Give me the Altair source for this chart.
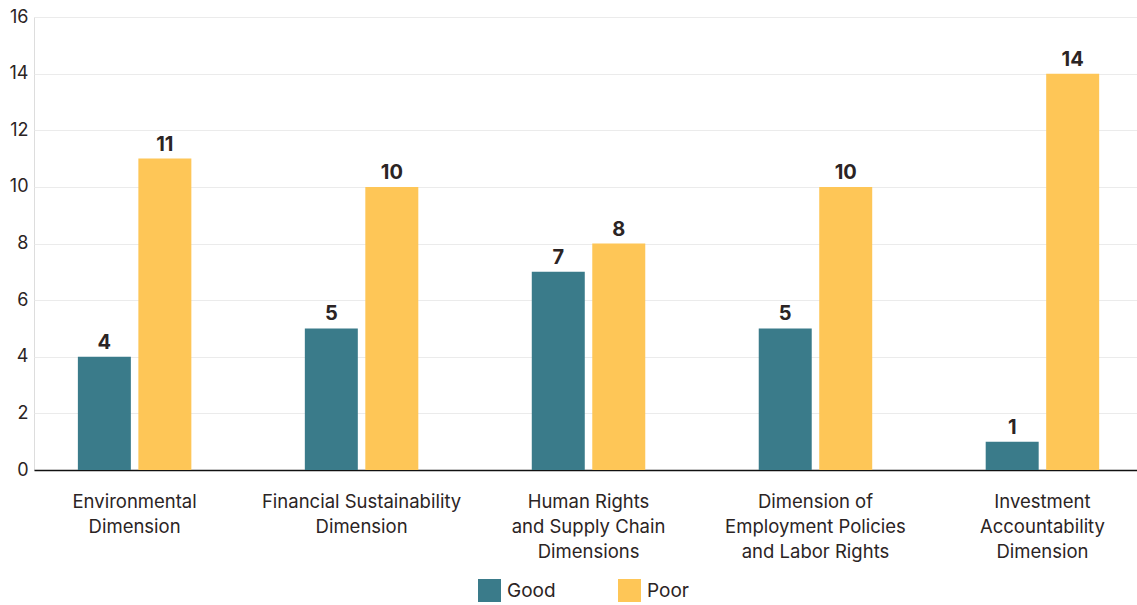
import altair as alt
import pandas as pd

# Assessment counts per ESG dimension
categories = [
    "Environmental\nDimension",
    "Financial Sustainability\nDimension",
    "Human Rights\nand Supply Chain\nDimensions",
    "Dimension of\nEmployment Policies\nand Labor Rights",
    "Investment\nAccountability\nDimension",
]
good = [4, 5, 7, 5, 1]
poor = [11, 10, 8, 10, 14]
ratings = ["Good", "Poor"]
colors = ["#3a7b8a", "#fec657"]

rows = []
for c, g, p in zip(categories, good, poor):
    rows.append({"category": c, "rating": "Good", "count": g})
    rows.append({"category": c, "rating": "Poor", "count": p})
df = pd.DataFrame(rows)

FONT = "Inter"
INK = "#2b2424"

x_enc = alt.X(
    "category:N",
    sort=categories,
    title=None,
    scale=alt.Scale(paddingInner=0.5, paddingOuter=0.18, align=0.537),
    axis=alt.Axis(
        labelAngle=0,
        labelExpr="split(datum.label, '\\n')",
        labelFontSize=18.5,
        labelLineHeight=25,
        labelPadding=22,
        labelColor=INK,
        labelFont=FONT,
        ticks=False,
        domain=True,
        domainColor="#111111",
        domainWidth=1.5,
        grid=False,
        labelLimit=300,
    ),
)
xoff = alt.XOffset("rating:N", sort=ratings, scale=alt.Scale(paddingInner=0.124, paddingOuter=0))

y_enc = alt.Y(
    "count:Q",
    title=None,
    scale=alt.Scale(domain=[0, 16]),
    axis=alt.Axis(
        values=[0, 2, 4, 6, 8, 10, 12, 14, 16],
        labelFontSize=18,
        labelColor=INK,
        labelFont=FONT,
        labelPadding=6,
        ticks=False,
        domain=False,
        gridColor="#ebebeb",
        gridWidth=1,
    ),
)

bars = alt.Chart(df).mark_bar().encode(
    x=x_enc,
    xOffset=xoff,
    y=y_enc,
    color=alt.Color(
        "rating:N",
        sort=ratings,
        scale=alt.Scale(domain=ratings, range=colors),
        legend=alt.Legend(
            title=None,
            orient="none",
            direction="horizontal",
            legendX=444,
            legendY=562,
            symbolType="square",
            symbolSize=529,
            symbolStrokeWidth=0,
            symbolOpacity=1,
            labelFontSize=19,
            labelFont=FONT,
            labelColor=INK,
            labelOffset=6,
            columnPadding=62,
        ),
    ),
)

labels = alt.Chart(df).mark_text(
    dy=-14, fontSize=20, fontWeight="bold", font=FONT, color=INK
).encode(
    x=alt.X("category:N", sort=categories),
    xOffset=alt.XOffset("rating:N", sort=ratings),
    y="count:Q",
    text="count:Q",
)

chart = (
    alt.layer(bars, labels)
    .properties(
        width=1103,
        height=453,
        autosize=alt.AutoSizeParams(type="none"),
        padding={"left": 34, "top": 17, "right": 0, "bottom": 135},
    )
    .configure_view(stroke=None)
    .configure(background="white")
)

chart.save("out.html", embed_options={"renderer": "svg", "actions": False})
